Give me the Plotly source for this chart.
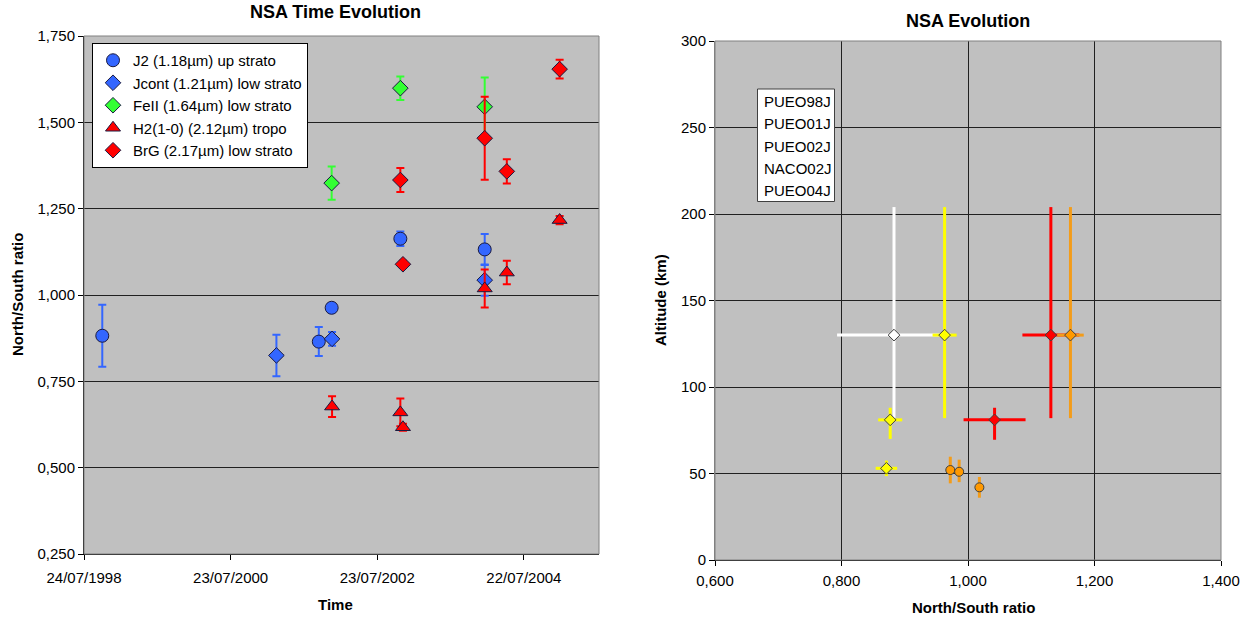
import plotly.graph_objects as go

FONT = "Liberation Sans, Arial, sans-serif"

# ---------------- Left chart data: NSA Time Evolution ----------------
j2_dates = ["1998-10-23", "2001-10-05", "2001-12-08", "2002-11-15", "2004-01-09"]
j2_vals = [0.882, 0.865, 0.963, 1.163, 1.132]
j2_err = [0.090, 0.042, 0.012, 0.021, 0.045]

jcont_dates = ["2001-03-08", "2001-12-10", "2004-01-09"]
jcont_vals = [0.825, 0.873, 1.043]
jcont_err = [0.060, 0.020, 0.045]

feii_dates = ["2001-12-08", "2002-11-15", "2004-01-09"]
feii_vals = [1.324, 1.599, 1.545]
feii_err = [0.048, 0.034, 0.085]

h2_dates = ["2001-12-10", "2002-11-15", "2002-11-28", "2004-01-09", "2004-04-28", "2005-01-16"]
h2_vals = [0.677, 0.660, 0.617, 1.019, 1.065, 1.217]
h2_err = [0.030, 0.040, 0.010, 0.055, 0.034, 0.012]

brg_dates = ["2002-11-15", "2002-11-28", "2004-01-09", "2004-04-28", "2005-01-16"]
brg_vals = [1.333, 1.089, 1.454, 1.358, 1.654]
brg_err = [0.035, 0.010, 0.120, 0.035, 0.027]

left_xtick_vals = ["1998-07-24", "2000-07-23", "2002-07-23", "2004-07-22"]
left_xtick_text = ["24/07/1998", "23/07/2000", "23/07/2002", "22/07/2004"]
left_ytick_vals = [0.25, 0.5, 0.75, 1.0, 1.25, 1.5, 1.75]
left_ytick_text = ["0,250", "0,500", "0,750", "1,000", "1,250", "1,500", "1,750"]

# ---------------- Right chart data: NSA Evolution ----------------
p98_x = [0.883]; p98_y = [130]; p98_ex = [0.090]; p98_eyp = [74]; p98_eym = [48]
p01_x = [0.963, 0.877, 0.871]; p01_y = [130, 81, 53]
p01_ex = [0.019, 0.019, 0.017]; p01_eyp = [74, 7, 4.5]; p01_eym = [48, 11, 4.5]
p02_x = [0.972, 0.986, 1.018]; p02_y = [52, 51, 42]
p02_ex = [0.006, 0.006, 0.005]; p02_eyp = [7.7, 7.0, 6.0]; p02_eym = [7.7, 6.0, 6.0]
n02_x = [1.162]; n02_y = [130]; n02_ex = [0.021]; n02_eyp = [74]; n02_eym = [48]
p04_x = [1.131, 1.042]; p04_y = [130, 81]
p04_ex = [0.045, 0.049]; p04_eyp = [74, 7]; p04_eym = [48, 11.5]

right_legend_names = ["PUEO98J", "PUEO01J", "PUEO02J", "NACO02J", "PUEO04J"]
right_xtick_vals = [0.6, 0.8, 1.0, 1.2, 1.4]
right_xtick_text = ["0,600", "0,800", "1,000", "1,200", "1,400"]
right_ytick_vals = [0, 50, 100, 150, 200, 250, 300]

W, H = 1246, 619


def px_x(p):
    return p / W


def px_y(p):
    return 1 - p / H


fig = go.Figure()

BLUE = "#3366FF"
GREEN = "#33FF33"
RED = "#FF0000"


def left_trace(name, x, y, err, symbol, fill, ecolor, size):
    fig.add_trace(go.Scatter(
        x=x, y=y, mode="markers", name=name, xaxis="x", yaxis="y",
        marker=dict(symbol=symbol, size=size, color=fill,
                    line=dict(color="#1a1a40", width=1)),
        error_y=dict(type="data", array=err, visible=True, color=ecolor,
                     thickness=2, width=4),
    ))


left_trace("J2 (1.18µm) up strato", j2_dates, j2_vals, j2_err, "circle", BLUE, BLUE, 13)
left_trace("Jcont (1.21µm) low strato", jcont_dates, jcont_vals, jcont_err, "diamond", BLUE, BLUE, 12)
left_trace("FeII (1.64µm) low strato", feii_dates, feii_vals, feii_err, "diamond", GREEN, GREEN, 12)
left_trace("H2(1-0) (2.12µm) tropo", h2_dates, h2_vals, h2_err, "triangle-up", RED, RED, 13)
left_trace("BrG (2.17µm) low strato", brg_dates, brg_vals, brg_err, "diamond", RED, RED, 12)


def right_trace(name, x, y, ex, eyp, eym, symbol, fill, ecolor):
    fig.add_trace(go.Scatter(
        x=x, y=y, mode="markers", name=name, xaxis="x2", yaxis="y2", showlegend=False,
        marker=dict(symbol=symbol, size=9, color=fill, line=dict(color="#404040", width=1)),
        error_x=dict(type="data", array=ex, visible=True, color=ecolor, thickness=3, width=0),
        error_y=dict(type="data", symmetric=False, array=eyp, arrayminus=eym, visible=True,
                     color=ecolor, thickness=3, width=0),
    ))


right_trace("PUEO98J", p98_x, p98_y, p98_ex, p98_eyp, p98_eym, "diamond", "#FFFFFF", "#FFFFFF")
right_trace("PUEO01J", p01_x, p01_y, p01_ex, p01_eyp, p01_eym, "diamond", "#FFFF00", "#FFFF00")
right_trace("PUEO04J", p04_x, p04_y, p04_ex, p04_eyp, p04_eym, "diamond", "#FF0000", "#FF0000")
right_trace("PUEO02J", p02_x, p02_y, p02_ex, p02_eyp, p02_eym, "circle", "#FF9900", "#F39C1A")
right_trace("NACO02J", n02_x, n02_y, n02_ex, n02_eyp, n02_eym, "diamond", "#FF9900", "#F39C1A")

axis_common = dict(tickfont=dict(family=FONT, size=15, color="black"),
                   ticks="outside", ticklen=5, tickcolor="black", zeroline=False)

fig.update_layout(
    width=W, height=H,
    margin=dict(l=0, r=0, t=0, b=0, autoexpand=False),
    paper_bgcolor="white", plot_bgcolor="#C0C0C0",
    font=dict(family=FONT, size=15, color="black"),
    xaxis=dict(domain=[px_x(84), px_x(599)], anchor="y", type="date",
               range=["1998-07-24", "2005-07-31"], tickvals=left_xtick_vals,
               ticktext=left_xtick_text, showgrid=False, showline=True,
               linecolor="black", linewidth=1, ticklabelstandoff=5, **axis_common),
    yaxis=dict(domain=[px_y(554), px_y(36)], anchor="x", range=[0.25, 1.75],
               tickvals=left_ytick_vals, ticktext=left_ytick_text, showgrid=True,
               gridcolor="#202020", gridwidth=1, showline=True, linecolor="black",
               linewidth=1, **axis_common),
    xaxis2=dict(domain=[px_x(715), px_x(1221)], anchor="y2", range=[0.6, 1.4],
                tickvals=right_xtick_vals, ticktext=right_xtick_text, showgrid=True,
                gridcolor="#202020", gridwidth=1, showline=True, linecolor="black",
                linewidth=1, ticklabelstandoff=2, **axis_common),
    yaxis2=dict(domain=[px_y(560), px_y(41)], anchor="x2", range=[0, 300],
                tickvals=right_ytick_vals, showgrid=True, gridcolor="#202020",
                gridwidth=1, showline=True, linecolor="#808080", linewidth=1,
                **axis_common),
    showlegend=True,
    legend=dict(x=px_x(92), y=px_y(43), xanchor="left", yanchor="top",
                bgcolor="white", bordercolor="black", borderwidth=1,
                font=dict(family=FONT, size=15, color="black"),
                itemwidth=30, tracegroupgap=0),
)

shapes = [
    dict(type="rect", xref="x domain", yref="y domain", x0=0, x1=1, y0=0, y1=1,
         line=dict(color="#808080", width=1), layer="above"),
    dict(type="rect", xref="x2 domain", yref="y2 domain", x0=0, x1=1, y0=0, y1=1,
         line=dict(color="#808080", width=1), layer="above"),
    dict(type="rect", xref="paper", yref="paper", x0=px_x(757.5), x1=px_x(834.5),
         y0=px_y(201.5), y1=px_y(89), fillcolor="white",
         line=dict(color="#404040", width=1), layer="above"),
]
fig.update_layout(shapes=shapes)


def ann(text, x, y, size=15, angle=0, xanchor="center"):
    return dict(text=text, x=px_x(x), y=px_y(y), xref="paper", yref="paper",
                xanchor=xanchor, yanchor="middle", showarrow=False, textangle=angle,
                font=dict(family=FONT, size=size, color="black"))


annotations = [
    ann("<b>NSA Time Evolution</b>", 335, 12, size=18),
    ann("<b>NSA Evolution</b>", 968, 21, size=18),
    ann("<b>North/South ratio</b>", 17, 295, angle=-90),
    ann("<b>Time</b>", 335, 604),
    ann("<b>Altitude (km)</b>", 660, 300, angle=-90),
    ann("<b>North/South ratio</b>", 973, 607),
]
legend_rows = [101.7, 123.8, 146.4, 168.8, 190.5]
for name, yy in zip(right_legend_names, legend_rows):
    annotations.append(ann(name, 762, yy, xanchor="left"))
fig.update_layout(annotations=annotations)

fig.write_html("out.html", config={"displayModeBar": False},
               post_script="document.body.style.margin='0';document.body.style.overflow='hidden';")
